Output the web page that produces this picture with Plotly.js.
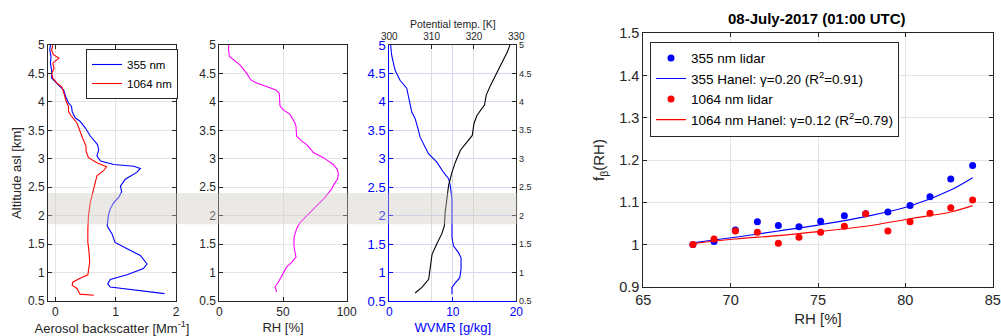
<!DOCTYPE html>
<html><head><meta charset="utf-8">
<script src="https://cdn.plot.ly/plotly-3.0.1.min.js"></script>
<style>body{margin:0;padding:0;background:#fff}#g{width:1001px;height:336px}</style>
</head><body><div id="g"></div>
<script>
// Panel 1: aerosol backscatter profiles
const b355_beta = [1.81,0.91,0.87,0.91,1.19,1.46,1.52,1.41,1.19,0.99,0.94,0.86,0.88,0.91,0.97,1.05,1.10,1.08,1.16,1.35,1.41,1.30,0.97,0.75,0.69,0.72,0.70,0.58,0.50,0.41,0.33,0.28,0.27,0.22,0.17,0.14,0.08,0.0,-0.06,-0.06,-0.08,-0.07,-0.09,-0.08];
const b355_alt  = [0.63,0.745,0.80,0.88,0.96,1.07,1.15,1.30,1.42,1.53,1.68,1.82,2.0,2.12,2.23,2.32,2.42,2.52,2.64,2.76,2.83,2.87,2.90,2.96,3.05,3.16,3.25,3.40,3.54,3.66,3.72,3.83,3.92,3.98,4.10,4.21,4.27,4.36,4.42,4.56,4.68,4.80,4.91,5.0];
const b1064_beta = [0.64,0.41,0.36,0.28,0.29,0.41,0.54,0.55,0.57,0.56,0.54,0.54,0.55,0.58,0.62,0.66,0.69,0.80,0.85,0.69,0.55,0.51,0.51,0.44,0.40,0.36,0.26,0.22,0.22,0.18,0.15,0.11,0.03,-0.04,-0.06,-0.02,-0.04,0.03,0.06,-0.03,-0.06,-0.04];
const b1064_alt  = [0.60,0.62,0.72,0.775,0.83,0.90,0.96,1.07,1.18,1.36,1.53,1.77,2.0,2.23,2.41,2.58,2.70,2.79,2.86,2.93,3.02,3.14,3.22,3.40,3.51,3.63,3.76,3.83,3.92,4.01,4.13,4.26,4.33,4.42,4.50,4.59,4.68,4.74,4.77,4.83,4.91,5.0];
// Panel 2: relative humidity
const rh_val = [45.0,43.7,46.3,49.0,52.9,56.8,60.2,59.4,58.6,58.6,60.7,63.4,68.6,76.4,83.0,88.2,90.0,92.7,93.5,92.7,89.5,81.7,73.8,72.0,68.6,64.7,60.7,60.2,59.4,55.5,50.3,47.6,47.6,47.1,44.5,37.2,29.3,24.6,21.5,16.2,11.0,7.9,7.3,7.3];
const rh_alt = [0.66,0.75,0.83,0.95,1.10,1.18,1.27,1.36,1.47,1.62,1.77,1.88,2.0,2.17,2.32,2.47,2.55,2.64,2.73,2.81,2.90,3.02,3.11,3.16,3.25,3.31,3.40,3.57,3.63,3.78,3.86,3.93,4.04,4.15,4.21,4.27,4.33,4.39,4.50,4.65,4.74,4.80,4.91,5.0];
// Panel 3: water vapour mixing ratio and potential temperature
const wv_val = [9.87,9.87,10.4,11.1,11.3,11.3,10.9,10.1,9.87,9.87,9.97,9.87,9.6,9.34,8.55,7.49,6.17,5.49,4.85,4.59,4.06,3.54,3.27,3.01,2.74,1.69,0.90,0.37,0.21];
const wv_alt = [0.62,0.74,0.82,0.91,1.06,1.26,1.35,1.47,1.62,1.82,2.06,2.29,2.53,2.65,2.76,2.94,3.09,3.24,3.38,3.50,3.71,3.82,3.97,4.12,4.24,4.38,4.56,4.82,5.0];
const th_val = [306.1,307.7,309.3,309.7,310.1,311.2,312.4,313.0,313.2,313.6,314.0,314.8,315.6,316.8,318.4,319.6,320.0,320.7,322.5,322.9,323.9,325.1,326.3,327.2,327.9,328.5];
const th_alt = [0.64,0.74,0.88,1.12,1.32,1.50,1.68,1.82,2.06,2.29,2.53,2.76,2.94,3.15,3.29,3.41,3.62,3.76,3.95,4.12,4.29,4.47,4.65,4.76,4.88,5.0];
// Panel 4: f_beta(RH)
const fb_rh = [67.84,69.05,70.27,71.53,72.73,73.91,75.15,76.51,77.73,79.0,80.27,81.41,82.6,83.85];
const fb_355 = [1.000,1.007,1.034,1.054,1.045,1.042,1.055,1.068,1.073,1.077,1.092,1.113,1.155,1.187];
const fb_1064 = [1.000,1.013,1.032,1.029,1.003,1.017,1.029,1.043,1.073,1.032,1.054,1.074,1.087,1.105];
const fit_rh = [67.84,70.27,72.73,75.15,77.73,80.27,82.6,83.85];
const fit_355 = [1.004,1.017,1.032,1.047,1.066,1.091,1.129,1.158];
const fit_1064 = [1.002,1.013,1.021,1.031,1.043,1.061,1.077,1.092];
// Ticks
const altTicks = [0.5,1,1.5,2,2.5,3,3.5,4,4.5,5];
const betaTicks = [0,1,2];
const rhTicks = [0,50,100];
const wvTicks = [0,10,20];
const thTicks = [300,310,320,330];
const fxTicks = [65,70,75,80,85];
const fyTicks = [0.9,1.0,1.1,1.2,1.3,1.4,1.5];
const band = [1.85,2.4];

const FONT = 'Liberation Sans, Arial, Helvetica, sans-serif';
const TC = '#262626';
const GRID = '#e4e4e4';
const W = 1001, H = 336;
const yd = [1-301/H, 1-45/H];
function px(a){return a/W;}

const traces = [
 {x:b355_beta, y:b355_alt, xaxis:'x', yaxis:'y', mode:'lines', line:{color:'#0000ff',width:1.1}, name:'355 nm', legend:'legend'},
 {x:b1064_beta, y:b1064_alt, xaxis:'x', yaxis:'y', mode:'lines', line:{color:'#ff0000',width:1.1}, name:'1064 nm', legend:'legend'},
 {x:rh_val, y:rh_alt, xaxis:'x2', yaxis:'y2', mode:'lines', line:{color:'#ff00ff',width:1.1}, showlegend:false},
 {x:wv_val, y:wv_alt, xaxis:'x3', yaxis:'y3', mode:'lines', line:{color:'#0000ff',width:1.1}, showlegend:false},
 {x:th_val, y:th_alt, xaxis:'x4', yaxis:'y4', mode:'lines', line:{color:'#000000',width:1.1}, showlegend:false},
 {x:fb_rh, y:fb_355, xaxis:'x5', yaxis:'y5', mode:'markers', marker:{color:'#0000ff',size:7}, name:'355 nm lidar', legend:'legend2'},
 {x:fit_rh, y:fit_355, xaxis:'x5', yaxis:'y5', mode:'lines', line:{color:'#0000ff',width:1.1,shape:'spline'}, name:'355 Hanel: γ=0.20 (R<sup>2</sup>=0.91)', legend:'legend2'},
 {x:fb_rh, y:fb_1064, xaxis:'x5', yaxis:'y5', mode:'markers', marker:{color:'#ff0000',size:7}, name:'1064 nm lidar', legend:'legend2'},
 {x:fit_rh, y:fit_1064, xaxis:'x5', yaxis:'y5', mode:'lines', line:{color:'#ff0000',width:1.1,shape:'spline'}, name:'1064 nm Hanel: γ=0.12 (R<sup>2</sup>=0.79)', legend:'legend2'}
];

function ax(o){
  return Object.assign({showline:true, linecolor:TC, linewidth:1, mirror:'ticks', ticks:'inside', ticklen:4, tickcolor:TC,
    gridcolor:GRID, zeroline:false, tickfont:{family:FONT,size:12,color:TC}, fixedrange:true}, o);
}

const layout = {
  width:W, height:H, margin:{l:0,r:0,t:0,b:0}, paper_bgcolor:'#fff', plot_bgcolor:'#fff',
  font:{family:FONT,color:TC},
  xaxis: ax({domain:[px(48),px(176)], range:[-0.12,2], tickvals:betaTicks, anchor:'y',
    title:{text:'Aerosol backscatter [Mm<sup>-1</sup>]', font:{size:13,color:TC}, standoff:4}}),
  yaxis: ax({domain:yd, range:[0.5,5], tickvals:altTicks, anchor:'x',
    title:{text:'Altitude asl [km]', font:{size:13,color:TC}, standoff:3}}),
  xaxis2: ax({domain:[px(219.3),px(346.7)], range:[0,100], tickvals:rhTicks, anchor:'y2',
    title:{text:'RH [%]', font:{size:13,color:TC}, standoff:4}}),
  yaxis2: ax({domain:yd, range:[0.5,5], tickvals:altTicks, anchor:'x2'}),
  xaxis3: ax({domain:[px(389.3),px(516.3)], range:[0,20], tickvals:wvTicks, anchor:'y3', mirror:false,
    linecolor:'#0000ff', tickcolor:'#0000ff', gridcolor:'#d6d6f4', tickfont:{family:FONT,size:12,color:'#0000ff'},
    title:{text:'WVMR [g/kg]', font:{size:13,color:'#0000ff'}, standoff:4}}),
  yaxis3: ax({domain:yd, range:[0.5,5], tickvals:altTicks, anchor:'x3', mirror:false,
    linecolor:'#0000ff', tickcolor:'#0000ff', gridcolor:'#d6d6f4', tickfont:{family:FONT,size:13,color:'#0000ff'}}),
  xaxis4: ax({overlaying:'x3', side:'top', anchor:'y3', range:[300,330], tickvals:thTicks, mirror:false,
    gridcolor:'#dedede', tickfont:{family:FONT,size:10,color:TC},
    title:{text:'Potential temp. [K]', font:{size:10.5,color:TC}, standoff:0}}),
  yaxis4: ax({overlaying:'y3', side:'right', anchor:'x3', range:[0.5,5], tickvals:altTicks, mirror:false,
    showgrid:false, tickfont:{family:FONT,size:9,color:TC}}),
  xaxis5: ax({domain:[px(643.3),px(992.7)], range:[65,85], tickvals:fxTicks, anchor:'y5',
    tickfont:{family:FONT,size:14.5,color:TC}, title:{text:'RH [%]', font:{size:15,color:TC}, standoff:6}}),
  yaxis5: ax({domain:[1-286.7/H, 1-33.3/H], range:[0.9,1.5], tickvals:fyTicks, anchor:'x5',
    tickfont:{family:FONT,size:14.5,color:TC}, title:{text:'f<sub>β</sub>(RH)', font:{size:15,color:TC}, standoff:10}}),
  legend: {x:px(86), y:1-49/H, xanchor:'left', yanchor:'top', bgcolor:'#fff', bordercolor:TC, borderwidth:1,
    font:{family:FONT,size:11.5,color:'#000'}, tracegroupgap:0, itemwidth:30},
  legend2: {x:px(650), y:1-41.7/H, xanchor:'left', yanchor:'top', bgcolor:'#fff', bordercolor:TC, borderwidth:1,
    font:{family:FONT,size:13.5,color:'#000'}, tracegroupgap:0, itemwidth:30},
  shapes: [{type:'rect', xref:'paper', yref:'y', x0:px(48), x1:px(517.5), y0:band[0], y1:band[1],
    fillcolor:'rgba(205,200,192,0.4)', line:{width:0}, layer:'above'}],
  annotations: [{text:'<b>08-July-2017 (01:00 UTC)</b>', xref:'paper', yref:'paper', x:px(817), y:1-18/H,
    xanchor:'center', yanchor:'middle', showarrow:false, font:{family:FONT,size:15,color:'#000'}}]
};
Plotly.newPlot('g', traces, layout, {displayModeBar:false, staticPlot:true});
</script></body></html>
